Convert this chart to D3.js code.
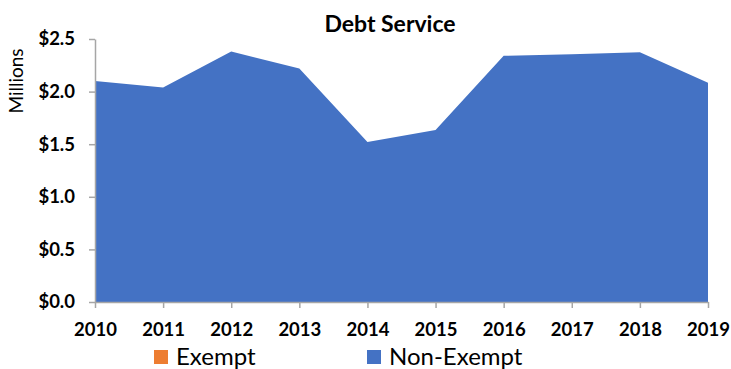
<!DOCTYPE html>
<html>
<head>
<meta charset="utf-8">
<script src="https://cdn.jsdelivr.net/npm/d3@7"></script>
<style>
body { margin: 0; background: #fff; }
svg { display: block; font-family: Lato, "Open Sans", sans-serif; }
</style>
</head>
<body>
<svg id="chart" width="731" height="369"></svg>
<script>
var years = [2010, 2011, 2012, 2013, 2014, 2015, 2016, 2017, 2018, 2019],
	exempt = [0, 0, 0, 0, 0, 0, 0, 0, 0, 0],
	nonExempt = [2.10, 2.04, 2.38, 2.22, 1.52, 1.635, 2.34, 2.355, 2.373, 2.085],
	yTicks = [0, 0.5, 1.0, 1.5, 2.0, 2.5];

var axiscolor = "#a6a6a6",
	exemptcolor = "#ed7d31",
	noncolor = "#4472c4";

var svg = d3.select("#chart"),
	margin = { top: 39, right: 23, bottom: 67, left: 95 },
	width = +svg.attr("width") - margin.left - margin.right,
	height = +svg.attr("height") - margin.top - margin.bottom,
	g = svg.append("g").attr("transform", "translate(" + margin.left + "," + margin.top + ")");

var x = d3.scaleLinear().domain([2010, 2019]).range([0, width]);
var y = d3.scaleLinear().domain([0, 2.5]).range([height, 0]);

var rows = years.map(function(d, i) {
	return { year: d, exempt: exempt[i], nonExempt: nonExempt[i] };
});
var series = d3.stack().keys(["exempt", "nonExempt"])(rows);
var colors = { exempt: exemptcolor, nonExempt: noncolor };

var area = d3.area()
	.x(function(d) { return x(d.data.year); })
	.y0(function(d) { return y(d[0]); })
	.y1(function(d) { return y(d[1]); });

g.selectAll(".layer")
	.data(series)
	.enter().append("path")
	.attr("class", "layer")
	.attr("fill", function(d) { return colors[d.key]; })
	.attr("d", area);

var bot = g.append("g")
	.attr("transform", "translate(0," + height + ")")
	.call(d3.axisBottom(x).tickValues(years).tickFormat(d3.format("d")).tickSize(6).tickSizeOuter(0).tickPadding(15));
bot.selectAll("line").style("stroke", axiscolor).style("stroke-width", 1.5);
bot.select(".domain").style("stroke", axiscolor).style("stroke-width", 1.5);
bot.selectAll("text")
	.style("fill", "#000")
	.style("font-family", "Lato, sans-serif")
	.style("font-weight", "bold")
	.style("font-size", "18.5px");

var left = g.append("g")
	.call(d3.axisLeft(y).tickValues(yTicks).tickFormat(function(d) { return "$" + d3.format(".1f")(d); }).tickSize(6).tickSizeOuter(0).tickPadding(14));
left.selectAll("line").style("stroke", axiscolor).style("stroke-width", 1.5);
left.select(".domain").style("stroke", axiscolor).style("stroke-width", 1.5);
left.selectAll("text")
	.style("fill", "#000")
	.style("font-family", "Lato, sans-serif")
	.style("font-weight", "bold")
	.style("font-size", "18.5px");

svg.append("text")
	.attr("x", 390)
	.attr("y", 32)
	.attr("text-anchor", "middle")
	.style("font-weight", "bold")
	.style("font-size", "23px")
	.text("Debt Service");

svg.append("text")
	.attr("transform", "translate(23,81) rotate(-90)")
	.attr("text-anchor", "middle")
	.style("font-size", "19px")
	.text("Millions");

var legend = [
	{ name: "Exempt", color: exemptcolor, x: 154 },
	{ name: "Non-Exempt", color: noncolor, x: 367 }
];
var lg = svg.selectAll(".legend")
	.data(legend)
	.enter().append("g")
	.attr("class", "legend")
	.attr("transform", function(d) { return "translate(" + d.x + ",350)"; });
lg.append("rect")
	.attr("width", 14)
	.attr("height", 14)
	.attr("fill", function(d) { return d.color; });
lg.append("text")
	.attr("x", 22)
	.attr("y", 14.5)
	.style("font-size", "24px")
	.text(function(d) { return d.name; });
</script>
</body>
</html>
